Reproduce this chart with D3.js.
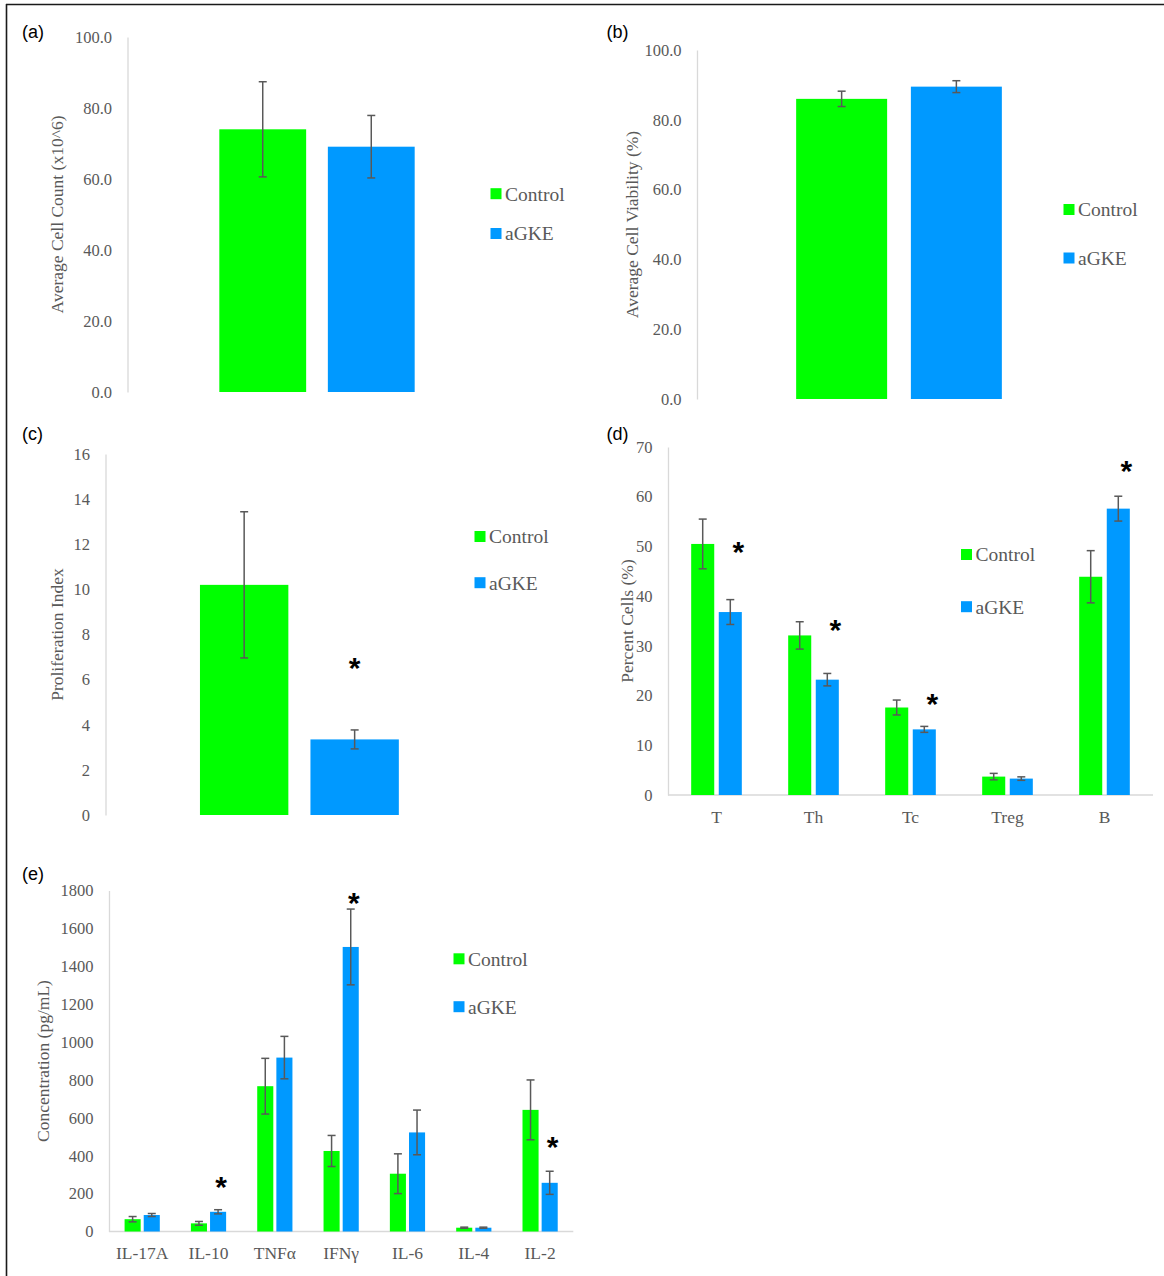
<!DOCTYPE html>
<html><head><meta charset="utf-8">
<script src="https://cdn.jsdelivr.net/npm/d3@7"></script>
<style>body{margin:0;background:#fff}svg{display:block}</style>
</head><body>
<svg id="fig" width="1164" height="1276"></svg>
<script>
// ---------- data ----------
const series = ["Control", "aGKE"];
const seriesColors = ["#00FF00", "#0099FF"];

// (a) Average cell count
const aCategories = [""];
const aControl = [74.0], aControlErr = [13.4];
const aAGKE = [69.1], aAGKEErr = [8.8];
const aTicks = [0, 20, 40, 60, 80, 100];

// (b) Average cell viability
const bCategories = [""];
const bControl = [86.0], bControlErr = [2.2];
const bAGKE = [89.5], bAGKEErr = [1.7];
const bTicks = [0, 20, 40, 60, 80, 100];

// (c) Proliferation index
const cCategories = [""];
const cControl = [10.2], cControlErr = [3.24];
const cAGKE = [3.35], cAGKEErr = [0.42];
const cTicks = [0, 2, 4, 6, 8, 10, 12, 14, 16];
const cSigCats = [""];
const cSigVals = [6.65];

// (d) Percent cells
const dCategories = ["T", "Th", "Tc", "Treg", "B"];
const dControl = [50.5, 32.1, 17.6, 3.7, 43.9];
const dControlErr = [5.0, 2.75, 1.5, 0.65, 5.25];
const dAGKE = [36.8, 23.2, 13.2, 3.3, 57.6];
const dAGKEErr = [2.5, 1.25, 0.6, 0.35, 2.5];
const dTicks = [0, 10, 20, 30, 40, 50, 60, 70];
const dSigCats = ["T", "Th", "Tc", "B"];
const dSigVals = [49.6, 33.9, 19.0, 65.9];

// (e) Cytokine concentration
const eCategories = ["IL-17A", "IL-10", "TNFα", "IFNγ", "IL-6", "IL-4", "IL-2"];
const eControl = [65, 43, 767, 425, 305, 20, 642];
const eControlErr = [14, 10, 147, 82, 105, 3, 158];
const eAGKE = [87, 104, 918, 1502, 523, 20, 257];
const eAGKEErr = [8, 11, 112, 200, 118, 3, 61];
const eTicks = [0, 200, 400, 600, 800, 1000, 1200, 1400, 1600, 1800];
const eSigCats = ["IL-10", "IFNγ", "IL-2"];
const eSigVals = [255, 1751, 467];

// ---------- drawing ----------
const svg = d3.select("#fig");
const SERIF = "'Liberation Serif','Times New Roman',serif";
const SANS = "'Liberation Sans',Arial,sans-serif";
const GRAY = "#595959";
const AXIS = "#d9d9d9";

// frame
svg.append("line").attr("x1", 6).attr("x2", 1164).attr("y1", 4.5).attr("y2", 4.5)
  .attr("stroke", "#1a1a1a").attr("stroke-width", 1.6);
svg.append("line").attr("x1", 6.5).attr("x2", 6.5).attr("y1", 4).attr("y2", 1276)
  .attr("stroke", "#1a1a1a").attr("stroke-width", 1.6);

function drawPanel(p) {
  const g = svg.append("g");
  const y = d3.scaleLinear().domain([0, p.max]).range([p.y0, p.y1]);
  const x = d3.scaleBand().domain(p.cats).range([p.x0, p.x1])
    .paddingInner(p.padInner).paddingOuter(p.padOuter);
  const xs = d3.scaleBand().domain(series).range([0, x.bandwidth()])
    .paddingInner(p.subPad).paddingOuter(0);

  // y axis
  const ax = g.append("g").attr("transform", `translate(${p.x0},0)`)
    .call(d3.axisLeft(y).tickValues(p.ticks).tickFormat(d3.format(p.fmt))
      .tickSize(0).tickPadding(15.5));
  ax.attr("font-family", SERIF).attr("font-size", 16.5).attr("color", GRAY);
  ax.select(".domain").attr("stroke", AXIS).attr("stroke-width", 1.3);

  // x axis line
  if (p.xLine) {
    g.append("line").attr("x1", p.x0).attr("x2", p.x1)
      .attr("y1", y(0)).attr("y2", y(0))
      .attr("stroke", AXIS).attr("stroke-width", 1.5);
  }

  // bars
  p.groups.forEach((grp, si) => {
    const s = series[si];
    const data = p.cats.map((c, i) => ({ c, v: grp.vals[i], e: grp.errs[i] }));
    g.append("g").selectAll("rect").data(data).join("rect")
      .attr("x", d => x(d.c) + xs(s)).attr("width", xs.bandwidth())
      .attr("y", d => y(d.v)).attr("height", d => y(0) - y(d.v))
      .attr("fill", seriesColors[si]);
    const eg = g.append("g").attr("stroke", GRAY).attr("stroke-width", 1.5);
    data.forEach(d => {
      const cx = x(d.c) + xs(s) + xs.bandwidth() / 2;
      const yt = y(d.v + d.e), yb = y(d.v - d.e);
      eg.append("line").attr("x1", cx).attr("x2", cx).attr("y1", yt).attr("y2", yb);
      eg.append("line").attr("x1", cx - 4).attr("x2", cx + 4).attr("y1", yt).attr("y2", yt);
      eg.append("line").attr("x1", cx - 4).attr("x2", cx + 4).attr("y1", yb).attr("y2", yb);
    });
  });

  // category labels
  if (p.catLabels) {
    g.append("g").selectAll("text").data(p.cats).join("text")
      .attr("x", d => x(d) + x.bandwidth() / 2).attr("y", y(0) + 21.5).attr("dy", "0.35em")
      .attr("text-anchor", "middle").attr("font-family", SERIF).attr("font-size", 17.5)
      .attr("fill", GRAY).text(d => d);
  }

  // significance asterisks (above aGKE bars)
  if (p.sig) {
    g.append("g").selectAll("text").data(p.sig.cats.map((c, i) => ({ c, v: p.sig.vals[i] })))
      .join("text")
      .attr("x", d => x(d.c) + xs("aGKE") + xs.bandwidth() / 2 + p.sig.dx)
      .attr("y", d => y(d.v) + 13.5)
      .attr("text-anchor", "middle").attr("font-family", SANS).attr("font-weight", "bold")
      .attr("font-size", 30).attr("fill", "#000").text("*");
  }

  // axis title
  const tcy = (p.y0 + p.y1) / 2;
  g.append("text").attr("transform", `translate(${p.titleX},${tcy}) rotate(-90)`)
    .attr("dy", "0.35em").attr("text-anchor", "middle")
    .attr("font-family", SERIF).attr("font-size", 17.5).attr("fill", GRAY).text(p.title);

  // legend
  series.forEach((s, i) => {
    const cy = p.legend.cy[i];
    g.append("rect").attr("x", p.legend.x).attr("y", cy - 5.5).attr("width", 11).attr("height", 11)
      .attr("fill", seriesColors[i]);
    g.append("text").attr("x", p.legend.x + 14.5).attr("y", cy).attr("dy", "0.35em")
      .attr("font-family", SERIF).attr("font-size", 19.5).attr("fill", GRAY).text(s);
  });

  // panel label
  g.append("text").attr("x", p.label.x).attr("y", p.label.y)
    .attr("font-family", SANS).attr("font-size", 18).attr("fill", "#000").text(p.label.text);
}

drawPanel({
  cats: aCategories, groups: [{ vals: aControl, errs: aControlErr }, { vals: aAGKE, errs: aAGKEErr }],
  x0: 127.5, x1: 506.5, y0: 392, y1: 37, max: 100, ticks: aTicks, fmt: ".1f",
  padInner: 0, padOuter: 0.47, subPad: 0.2, xLine: false, catLabels: false,
  title: "Average Cell Count (x10^6)", titleX: 57,
  legend: { x: 490.5, cy: [193.7, 233.5] }, label: { text: "(a)", x: 22, y: 38 }
});
drawPanel({
  cats: bCategories, groups: [{ vals: bControl, errs: bControlErr }, { vals: bAGKE, errs: bAGKEErr }],
  x0: 697, x1: 1101, y0: 399, y1: 50, max: 100, ticks: bTicks, fmt: ".1f",
  padInner: 0, padOuter: 0.482, subPad: 0.207, xLine: false, catLabels: false,
  title: "Average Cell Viability (%)", titleX: 632,
  legend: { x: 1063.5, cy: [209.5, 258] }, label: { text: "(b)", x: 606.5, y: 38 }
});
drawPanel({
  cats: cCategories, groups: [{ vals: cControl, errs: cControlErr }, { vals: cAGKE, errs: cAGKEErr }],
  x0: 105.5, x1: 493.3, y0: 815, y1: 454, max: 16, ticks: cTicks, fmt: "d",
  padInner: 0, padOuter: 0.475, subPad: 0.2, xLine: false, catLabels: false,
  title: "Proliferation Index", titleX: 56.6,
  sig: { cats: cSigCats, vals: cSigVals, dx: 0 },
  legend: { x: 474.5, cy: [536.5, 582.7] }, label: { text: "(c)", x: 22, y: 440 }
});
drawPanel({
  cats: dCategories, groups: [{ vals: dControl, errs: dControlErr }, { vals: dAGKE, errs: dAGKEErr }],
  x0: 668, x1: 1153, y0: 795, y1: 447, max: 70, ticks: dTicks, fmt: "d",
  padInner: 0.478, padOuter: 0.239, subPad: 0.164, xLine: true, catLabels: true,
  title: "Percent Cells (%)", titleX: 626.6,
  sig: { cats: dSigCats, vals: dSigVals, dx: 8 },
  legend: { x: 961, cy: [554.5, 606.7] }, label: { text: "(d)", x: 606.5, y: 440 }
});
drawPanel({
  cats: eCategories, groups: [{ vals: eControl, errs: eControlErr }, { vals: eAGKE, errs: eAGKEErr }],
  x0: 109, x1: 573.3, y0: 1231.5, y1: 890.5, max: 1800, ticks: eTicks, fmt: "d",
  padInner: 0.469, padOuter: 0.235, subPad: 0.16, xLine: true, catLabels: true,
  title: "Concentration (pg/mL)", titleX: 43,
  sig: { cats: eSigCats, vals: eSigVals, dx: 3 },
  legend: { x: 453.5, cy: [958.8, 1006.7] }, label: { text: "(e)", x: 22, y: 880 }
});
</script>
</body></html>
